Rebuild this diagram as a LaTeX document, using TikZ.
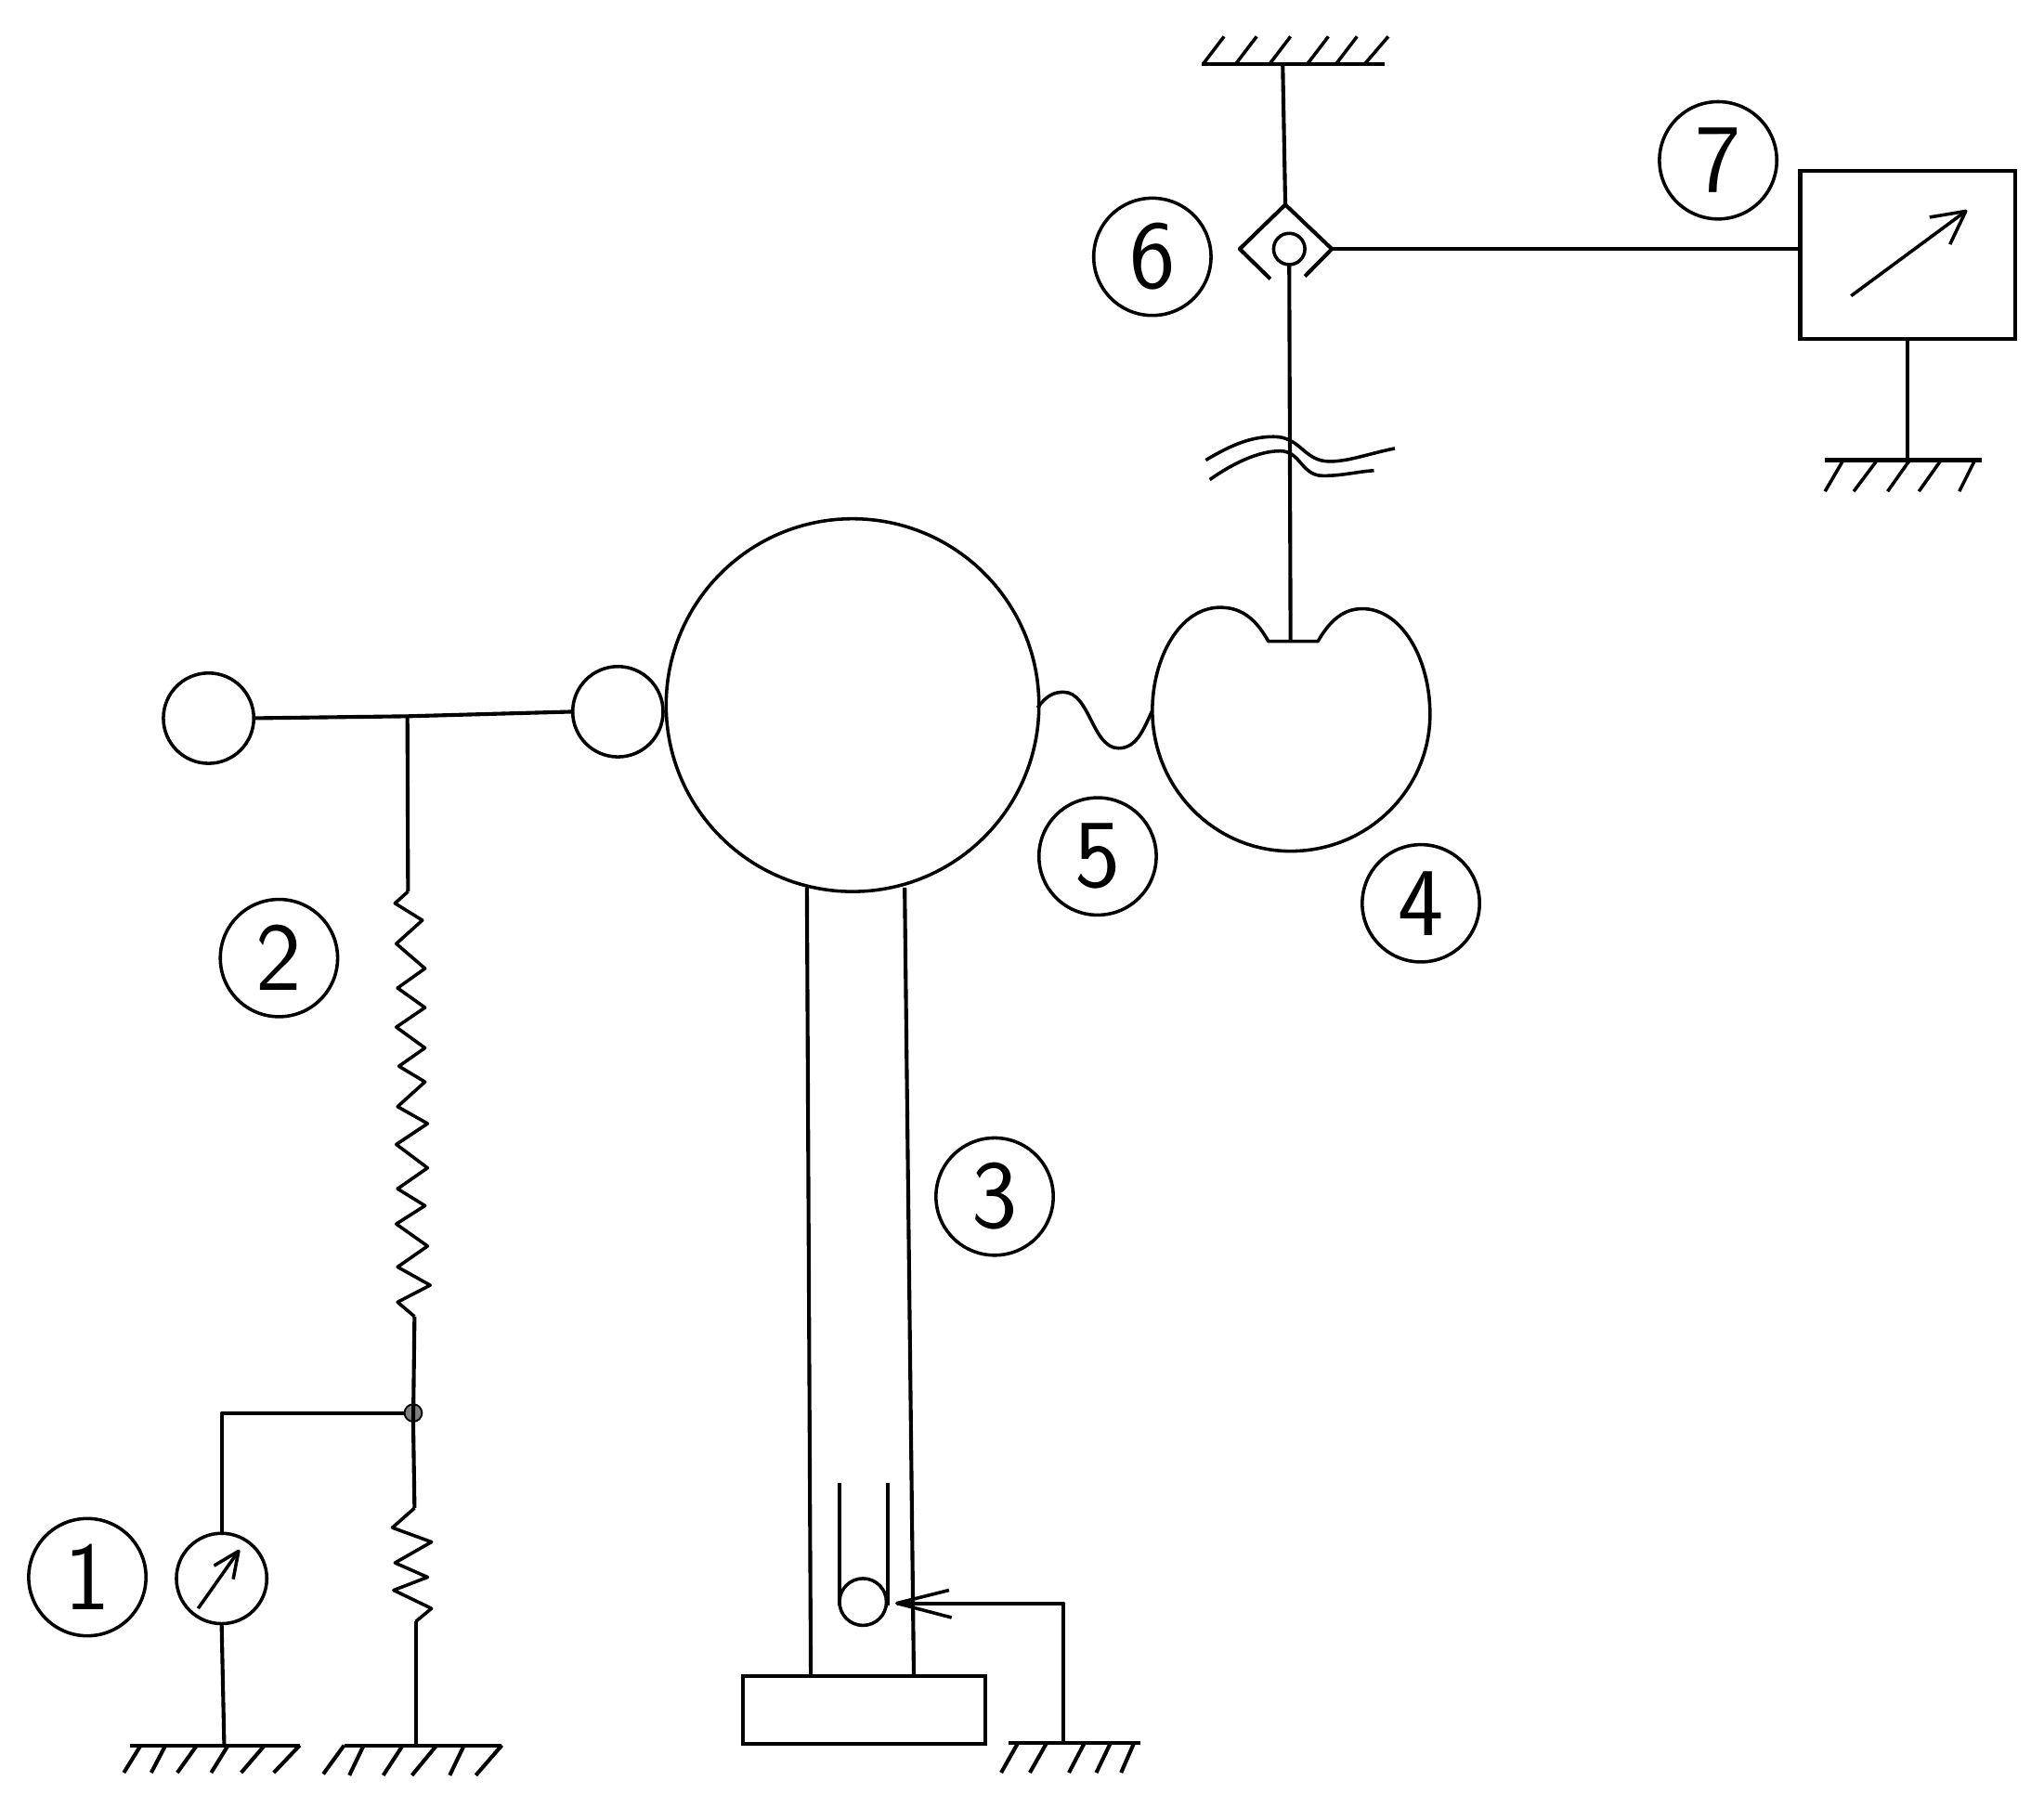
\documentclass[tikz,border=0pt]{standalone}

\tikzset{every picture/.style={line width=0.75pt}}
\tikzset{
  wire/.style={line width=2.2pt,line join=round},
  thinwire/.style={line width=1.9pt,line join=round},
  ball/.style={draw,circle,line width=1.9pt,inner sep=0pt,outer sep=0pt,minimum size=#1},
  numlabel/.style={draw,circle,line width=1.9pt,inner sep=0pt,outer sep=0pt,minimum size=67.5pt,
    font=\sffamily\fontsize{56}{56}\selectfont}
}

\begin{document}
\begin{tikzpicture}[x=0.75pt,y=0.75pt,yscale=-1,xscale=1]
\useasboundingbox (0,0) rectangle (1568,1386);

% spheres
\node [ball=214.5pt] (bigball) at (654,541) {};
\node [ball=52pt] (leftball) at (160,551) {};
\node [ball=52pt] (midball) at (474,546) {};
\node [ball=52pt] (meter) at (170,1211) {};
\node [ball=27pt] (sensorball) at (662,1229) {};
\node [ball=18pt] (pickup) at (989,191) {};
\node [draw,fill=gray,circle,line width=1pt,inner sep=0pt,minimum size=10pt] (joint) at (317,1084) {};

% boxes
\node [draw,line width=2.2pt,inner sep=0pt,outer sep=0pt,minimum width=123.75pt,minimum height=96.75pt] (recorder) at (1463.5,195.5) {};
\node [draw,line width=2.2pt,inner sep=0pt,outer sep=0pt,minimum width=139.5pt,minimum height=39pt] (base) at (663,1312) {};

% free ends of the wires
\coordinate (tjoin) at (312.5,549.5);
\coordinate (highrtop) at (313,684);
\coordinate (highrbot) at (318,1010);
\coordinate (lowrtop) at (318,1157);
\coordinate (lowrbot) at (319,1244);
\coordinate (corner) at (170,1084);
\coordinate (gndtop) at (984,49);
\coordinate (gndbox) at (1463,353);
\coordinate (gndmeter) at (172,1339);
\coordinate (gndres) at (319,1339);
\coordinate (gndside) at (816,1337);
\coordinate (armcorner) at (816,1230);
\coordinate (armtip) at (688,1230);
\coordinate (notch) at (990,492);
\coordinate (diamondtop) at (986,157);
\coordinate (diamondright) at (1021.7,191);
\coordinate (wavestart) at (796,543);

%Straight Lines
\draw [wire] (leftball.east) -- (tjoin) -- (midball.west);
\draw [wire] (tjoin) -- (highrtop);
\draw [wire] (highrbot) -- (joint.south) -- (lowrtop);
\draw [wire] (joint.west) -- (corner) -- (meter.north);
\draw [wire] (meter.south) -- (gndmeter);
\draw [wire] (lowrbot) -- (gndres);
\draw [wire] (gndtop) -- (diamondtop);
\draw [wire] (pickup.south) -- (notch);
\draw [wire] (diamondright) -- (diamondright -| recorder.west);
\draw [wire] (recorder.south -| gndbox) -- (gndbox);

% column
\draw [wire] (619,681) -- (622,1286);
\draw [wire] (694,681) -- (701,1286);
\draw [thinwire] (644,1138) -- (644,1232);
\draw [thinwire] (681,1138) -- (681,1232);

% resistors
\draw [thinwire] (highrtop) -- (303,693) -- (324,706) -- (304,724) -- (326,743) -- (305,758) -- (326,773) -- (304,788) -- (326,804) -- (306,818) -- (326,830) -- (305,849) -- (328,862) -- (304,878) -- (328,896) -- (305,912) -- (326,925) -- (304,939) -- (328,956) -- (305,972) -- (330,986) -- (305,999) -- (highrbot);
\draw [thinwire] (lowrtop) -- (301,1172) -- (331,1183) -- (303,1199) -- (328,1210) -- (302,1220) -- (331,1234) -- (lowrbot);

% ground hatching
\draw [wire] (922,49) -- (1062,49);
\foreach \xa/\xb in {923/939,948/964,974/990,1003/1019,1025/1041,1047/1065}
  \draw [thinwire] (\xa,49) -- (\xb,28);
\draw [wire] (1400,353) -- (1520,353);
\foreach \xa/\xb in {1414/1400,1440/1422,1465/1448,1489/1472,1515/1503}
  \draw [thinwire] (\xa,353) -- (\xb,377);
\draw [wire] (100,1339) -- (230,1339);
\foreach \xa/\xb in {108/95,127/116,151/136,175/162,203/185,230/210}
  \draw [wire] (\xa,1339) -- (\xb,1360);
\draw [wire] (264,1339) -- (385,1339);
\draw [wire] (264,1339) -- (248,1361);
\foreach \xa/\xb in {279/268,309/294,335/316,356/345,385/365}
  \draw [wire] (\xa,1339) -- (\xb,1362);
\draw [wire] (774,1337) -- (875,1337);
\foreach \xa/\xb in {781/768,803/790,832/820,852/841,870/860}
  \draw [wire] (\xa,1337) -- (\xb,1360);

% pointer and contact
\draw [thinwire] (1420,227) -- (1508,162);
\draw [thinwire,shift={(1508,162)},rotate=143] (25,-13) -- (0,0) -- (25,13);
\draw [thinwire] (152,1234) -- (183,1190);
\draw [thinwire,shift={(183,1190)},rotate=125] (20,-9) -- (0,0) -- (20,9);
\draw [wire] (gndside) -- (armcorner) -- (armtip);
\draw [thinwire,shift={(armtip)}] (40,-10) -- (0,0) -- (42,11);

% open diamond
\draw [wire] (974.5,214) -- (951,191) -- (diamondtop) -- (diamondright) -- (1001,212);

% break in the wire
\draw [thinwire] (925,353) .. controls (945,341) and (960,335) .. (977,335) .. controls (998,335) and (1000,354) .. (1020,354) .. controls (1035,354) and (1050,348) .. (1070,344);
\draw [thinwire] (928,368) .. controls (945,356) and (965,346) .. (982,346) .. controls (998,346) and (998,365) .. (1015,365) .. controls (1030,365) and (1040,362) .. (1054,361);

% electrode and link
\draw [thinwire] (973,492) .. controls (965,478) and (955,466) .. (936,466) .. controls (905,466) and (884,505) .. (884,545) .. controls (884,605) and (932,653) .. (990,653) .. controls (1050,653) and (1097,605) .. (1097,548) .. controls (1097,505) and (1075,467) .. (1045,467) .. controls (1028,467) and (1018,480) .. (1011,492) -- cycle;
\draw [thinwire] (wavestart) .. controls (803,533) and (809,531) .. (816,531) .. controls (836,531) and (838,574) .. (858,574) .. controls (872,574) and (877,560) .. (884,545);

% Text Node
\node [numlabel] (labone) at (67,1210) {1};
\node [numlabel] (labtwo) at (214,735) {2};
\node [numlabel] (labthree) at (763,918) {3};
\node [numlabel] (labfour) at (1090,693) {4};
\node [numlabel] (labfive) at (842,657) {5};
\node [numlabel] (labsix) at (884,197) {6};
\node [numlabel] (labseven) at (1318,123) {7};

\end{tikzpicture}
\end{document}
